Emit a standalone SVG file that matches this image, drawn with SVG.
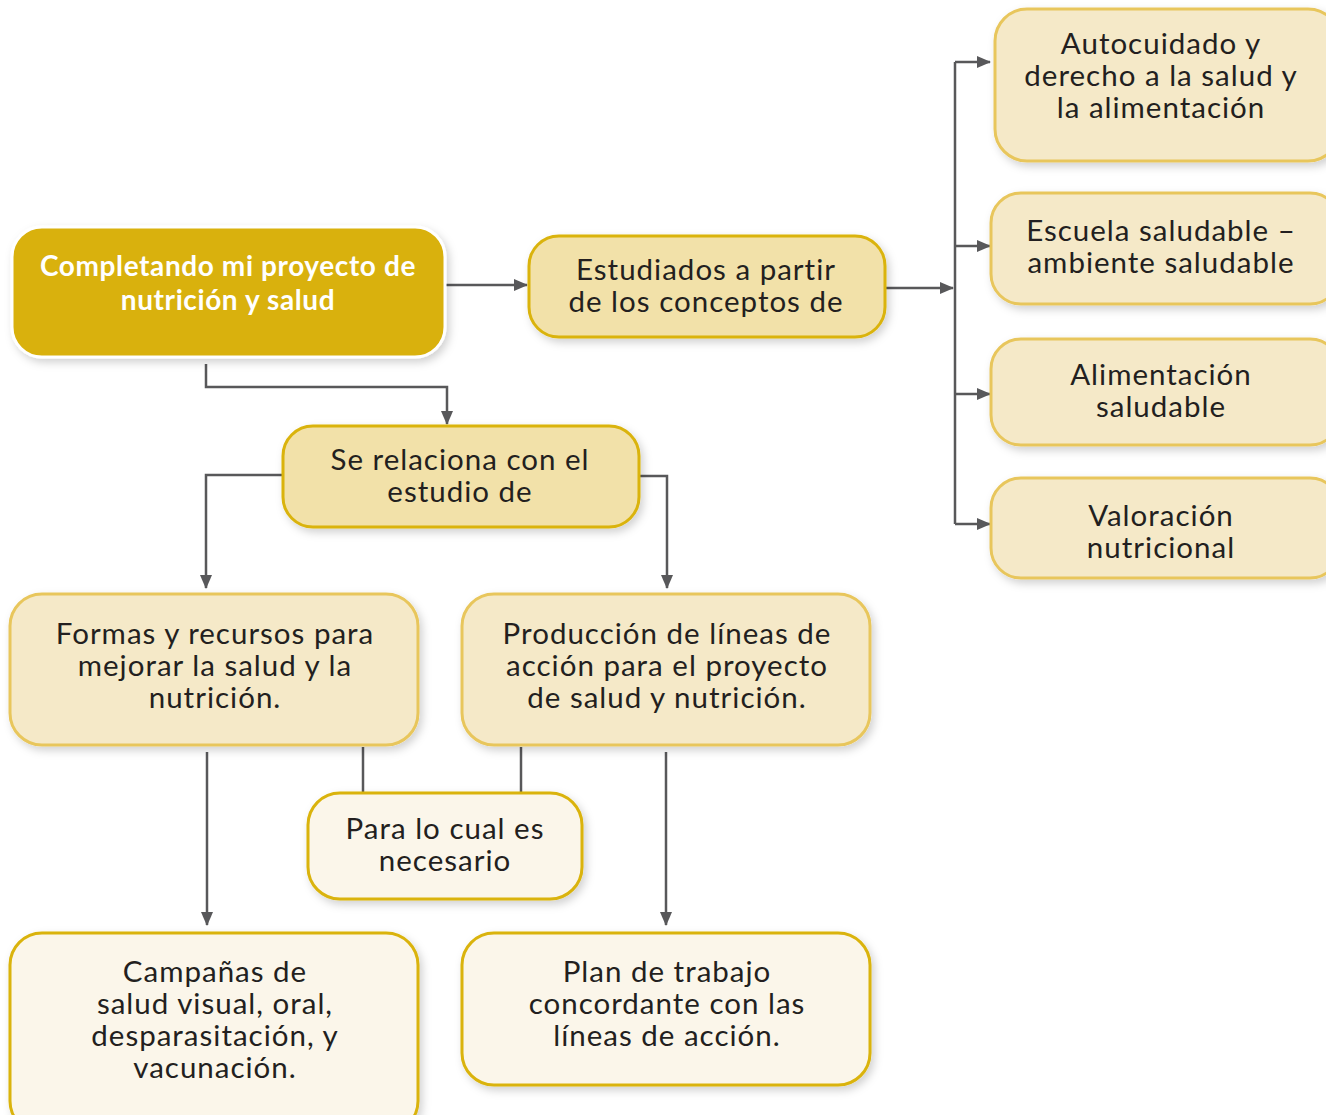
<svg xmlns="http://www.w3.org/2000/svg" width="1326" height="1115" viewBox="0 0 1326 1115">
<style>
.t{font-family:Lato,"Noto Sans",sans-serif;font-size:29.5px;letter-spacing:1px;fill:#231f20;text-anchor:middle}
.tb{font-family:Lato,"Noto Sans",sans-serif;font-size:28px;letter-spacing:0.6px;font-weight:bold;fill:#ffffff;text-anchor:middle}
.dark{fill:#f2e1a9;stroke:#dab30a;stroke-width:3}
.mid{fill:#f5e9c8;stroke:#e8c65c;stroke-width:3}
.light{fill:#fbf6ea;stroke:#dab30a;stroke-width:3}
.c{fill:none;stroke:#58585a;stroke-width:2.5}
</style>
<defs>
<filter id="sh" x="-10%" y="-10%" width="125%" height="130%">
<feDropShadow dx="3" dy="4" stdDeviation="4" flood-color="#000" flood-opacity="0.18"/>
</filter>
<marker id="a" viewBox="0 0 14 12" refX="13" refY="6" markerWidth="14" markerHeight="12" markerUnits="userSpaceOnUse" orient="auto">
<path d="M0,0 L14,6 L0,12 Z" fill="#58585a"/>
</marker>
</defs>
<g id="connectors">
<path class="c" d="M446,285 H527" marker-end="url(#a)"/>
<path class="c" d="M886,288 H953" marker-end="url(#a)"/>
<path class="c" d="M955,62 V524"/>
<path class="c" d="M955,62 H990" marker-end="url(#a)"/>
<path class="c" d="M955,246 H990" marker-end="url(#a)"/>
<path class="c" d="M955,394 H990" marker-end="url(#a)"/>
<path class="c" d="M955,524 H990" marker-end="url(#a)"/>
<path class="c" d="M206,364 V387 H447 V424" marker-end="url(#a)"/>
<path class="c" d="M283,475 H206 V588" marker-end="url(#a)"/>
<path class="c" d="M639,476 H667 V588" marker-end="url(#a)"/>
<path class="c" d="M363,747 V793"/>
<path class="c" d="M521,747 V793"/>
<path class="c" d="M207,752 V925" marker-end="url(#a)"/>
<path class="c" d="M666,752 V925" marker-end="url(#a)"/>
</g>
<g id="n-root">
<rect x="12" y="227" width="433" height="130" rx="30" fill="#d9b109" stroke="#ffffff" stroke-width="3" filter="url(#sh)"/>
<text class="tb" x="228" y="276">Completando mi proyecto de</text>
<text class="tb" x="228" y="310">nutrición y salud</text>
</g>
<g id="n-estudiados">
<rect class="dark" x="529" y="236" width="356" height="101" rx="30" filter="url(#sh)"/>
<text class="t" x="706" y="280">Estudiados a partir</text>
<text class="t" x="706" y="312">de los conceptos de</text>
</g>
<g id="n-autocuidado">
<rect class="mid" x="995" y="9" width="345" height="152" rx="32" filter="url(#sh)"/>
<text class="t" x="1161" y="54">Autocuidado y</text>
<text class="t" x="1161" y="86">derecho a la salud y</text>
<text class="t" x="1161" y="118">la alimentación</text>
</g>
<g id="n-escuela">
<rect class="mid" x="991" y="193" width="349" height="111" rx="30" filter="url(#sh)"/>
<text class="t" x="1161" y="241">Escuela saludable –</text>
<text class="t" x="1161" y="273">ambiente saludable</text>
</g>
<g id="n-alimentacion">
<rect class="mid" x="991" y="339" width="349" height="106" rx="30" filter="url(#sh)"/>
<text class="t" x="1161" y="385">Alimentación</text>
<text class="t" x="1161" y="417">saludable</text>
</g>
<g id="n-valoracion">
<rect class="mid" x="991" y="478" width="349" height="100" rx="30" filter="url(#sh)"/>
<text class="t" x="1161" y="526">Valoración</text>
<text class="t" x="1161" y="558">nutricional</text>
</g>
<g id="n-relaciona">
<rect class="dark" x="283" y="426" width="356" height="101" rx="30" filter="url(#sh)"/>
<text class="t" x="460" y="470">Se relaciona con el</text>
<text class="t" x="460" y="502">estudio de</text>
</g>
<g id="n-formas">
<rect class="mid" x="10" y="594" width="408" height="151" rx="32" filter="url(#sh)"/>
<text class="t" x="215" y="644">Formas y recursos para</text>
<text class="t" x="215" y="676">mejorar la salud y la</text>
<text class="t" x="215" y="708">nutrición.</text>
</g>
<g id="n-produccion">
<rect class="mid" x="462" y="594" width="408" height="151" rx="32" filter="url(#sh)"/>
<text class="t" x="667" y="644">Producción de líneas de</text>
<text class="t" x="667" y="676">acción para el proyecto</text>
<text class="t" x="667" y="708">de salud y nutrición.</text>
</g>
<g id="n-para">
<rect class="light" x="308" y="793" width="274" height="106" rx="32" filter="url(#sh)"/>
<text class="t" x="445" y="839">Para lo cual es</text>
<text class="t" x="445" y="871">necesario</text>
</g>
<g id="n-campanas">
<rect class="light" x="10" y="933" width="408" height="200" rx="32" filter="url(#sh)"/>
<text class="t" x="215" y="982">Campañas de</text>
<text class="t" x="215" y="1014">salud visual, oral,</text>
<text class="t" x="215" y="1046">desparasitación, y</text>
<text class="t" x="215" y="1078">vacunación.</text>
</g>
<g id="n-plan">
<rect class="light" x="462" y="933" width="408" height="152" rx="32" filter="url(#sh)"/>
<text class="t" x="667" y="982">Plan de trabajo</text>
<text class="t" x="667" y="1014">concordante con las</text>
<text class="t" x="667" y="1046">líneas de acción.</text>
</g>
</svg>
